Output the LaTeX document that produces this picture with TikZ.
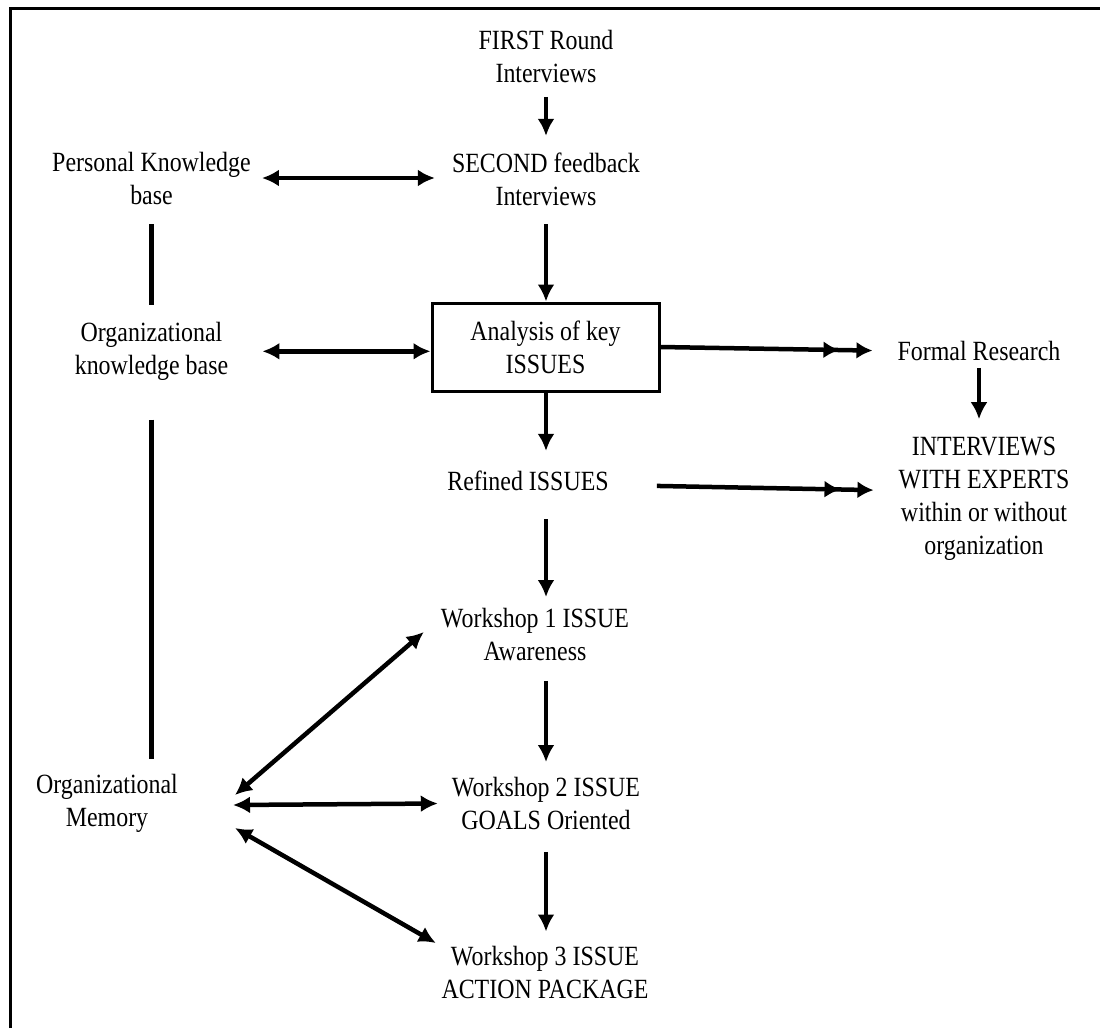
\documentclass[tikz,border=0pt]{standalone}
\usepackage{fontspec}
\setmainfont{Liberation Serif}[FakeStretch=0.86]
\usetikzlibrary{arrows.meta}
\begin{document}
\begin{tikzpicture}[x=1pt,y=-1pt,
  lbl/.style={font=\fontsize{27.8}{33}\selectfont, align=center, inner sep=0pt},
  arr/.style={line width=4.5pt, -{Latex[length=17pt,width=17pt]}},
  biarr/.style={line width=4.5pt, {Latex[length=17pt,width=17pt]}-{Latex[length=17pt,width=17pt]}},
  dblarr/.style={line width=4.5pt, -{Latex[length=16pt,width=17pt,sep=17pt]Latex[length=16pt,width=17pt]}},
  plainline/.style={line width=4.5pt}]
\useasboundingbox (0,0) rectangle (1100,1028);
\fill[white] (0,0) rectangle (1100,1028);
\draw[line width=3pt] (10.5,1028) -- (10.5,8.8) -- (1100,8.8);

\node[lbl] (first) at (546,56.5) {FIRST Round\\Interviews};
\node[lbl] (second) at (546,179.5) {SECOND feedback\\Interviews};
\node[lbl] (personal) at (151.5,178) {Personal Knowledge\\base};
\node[lbl] (orgkb) at (151.5,351.3) {Organizational\\knowledge base};
\node[lbl, draw, line width=3pt, minimum width=227pt, minimum height=88pt] (box) at (545.5,347) {Analysis of key\\ISSUES};
\node[lbl] (formal) at (979,351) {Formal Research};
\node[lbl] (inter) at (984,498.6) {INTERVIEWS\\WITH EXPERTS\\within or without\\organization};
\node[lbl] (refined) at (528,481) {Refined ISSUES};
\node[lbl] (w1) at (535,634.5) {Workshop 1 ISSUE\\Awareness};
\node[lbl] (w2) at (546,803.5) {Workshop 2 ISSUE\\GOALS Oriented};
\node[lbl] (w3) at (545,972) {Workshop 3 ISSUE\\ACTION PACKAGE};
\node[lbl] (mem) at (107,803) {Organizational\\Memory};
\coordinate (axis) at (546,0);

\draw[arr, shorten <=14pt, shorten >=17pt] (first.south) -- (first.south |- second.north);
\draw[biarr, shorten <=11pt, shorten >=17pt] (personal.east) -- (personal.east -| second.west);
\draw[arr, shorten <=18pt] (second.south) -- (second.south |- box.north);
\draw[plainline, shorten <=20pt, shorten >=17pt] (personal.south) -- (personal.south |- orgkb.north);
\draw[biarr, shorten <=34pt] (orgkb.east) -- (orgkb.east -| box.west);
\draw[dblarr, shorten >=25pt] (box.east) -- (formal.west);
\draw[arr, shorten <=7pt, shorten >=17.5pt] (formal.south) -- (formal.south |- inter.north);
\draw[arr, shorten >=20pt] (box.south -| axis) -- (refined.north -| axis);
\draw[dblarr, shorten <=48pt, shorten >=25pt] ([yshift=-4pt]refined.east) -- ([yshift=8pt]inter.west);
\draw[arr, shorten <=28pt, shorten >=11pt] (refined.south -| axis) -- (w1.north -| axis);
\draw[arr, shorten <=20pt, shorten >=15pt] (w1.south -| axis) -- (w2.north -| axis);
\draw[arr, shorten <=22pt, shorten >=14pt] (w2.south -| axis) -- (w3.north -| axis);
\draw[plainline, shorten <=39pt, shorten >=15pt] (orgkb.south) -- (orgkb.south |- mem.north);
\draw[biarr] ([xshift=57pt,yshift=8pt]mem.east) -- ([xshift=-17pt,yshift=2.5pt]w1.west);
\draw[biarr] ([xshift=55pt,yshift=-2pt]mem.east) -- ([xshift=-14pt]w2.west);
\draw[biarr] ([xshift=57pt,yshift=-25pt]mem.east) -- ([xshift=-5.5pt,yshift=29pt]w3.west);
\end{tikzpicture}
\end{document}
